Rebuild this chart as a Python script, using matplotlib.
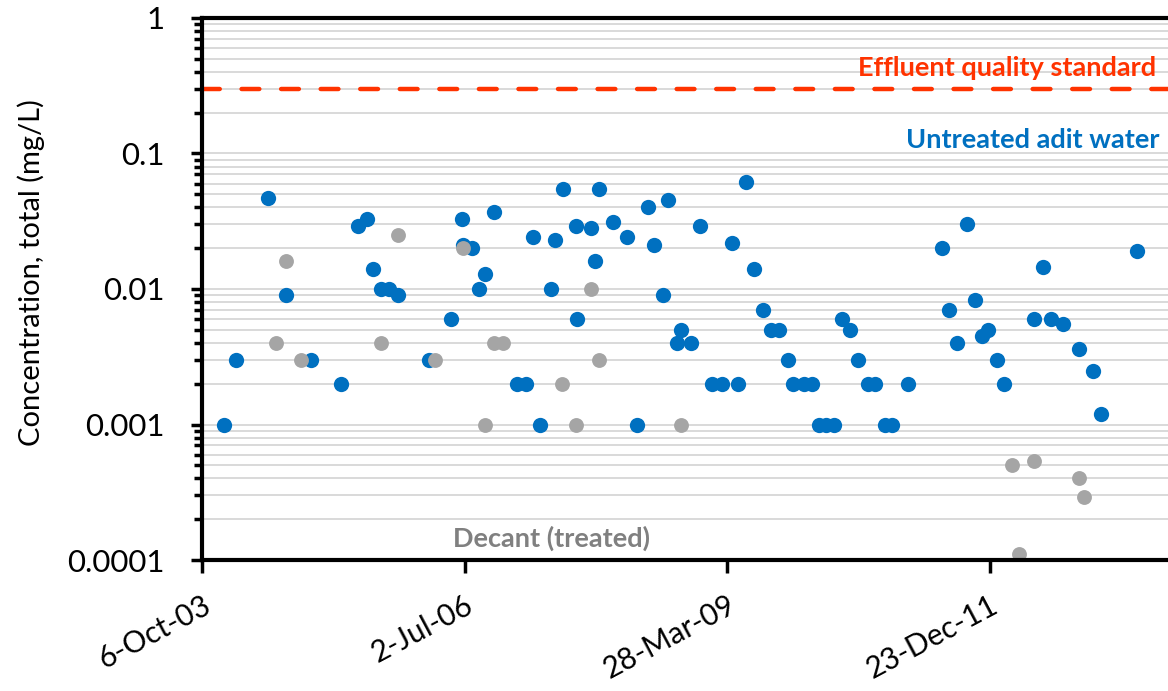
import matplotlib
matplotlib.use("Agg")
import matplotlib.pyplot as plt
import matplotlib.dates as mdates
from matplotlib.ticker import FixedLocator, LogLocator, NullFormatter
import pandas as pd

# ---- data -------------------------------------------------------------
untreated_dates = [
    "2003-12-30", "2004-02-14", "2004-06-12", "2004-08-20", "2004-11-24",
    "2005-03-17", "2005-05-22", "2005-06-25", "2005-07-17", "2005-08-16",
    "2005-09-19", "2005-10-21", "2006-02-15", "2006-05-13", "2006-06-23",
    "2006-06-25", "2006-07-29", "2006-08-27", "2006-09-17", "2006-10-22",
    "2007-01-18", "2007-02-21", "2007-03-20", "2007-04-16", "2007-05-27",
    "2007-06-13", "2007-07-10", "2007-08-29", "2007-09-05", "2007-10-27",
    "2007-11-10", "2007-11-25", "2008-01-20", "2008-03-11", "2008-04-19",
    "2008-05-29", "2008-06-21", "2008-07-25", "2008-08-13", "2008-09-17",
    "2008-10-05", "2008-11-12", "2008-12-16", "2009-01-30", "2009-03-09",
    "2009-04-16", "2009-05-07", "2009-06-07", "2009-07-08", "2009-08-13",
    "2009-09-10", "2009-10-10", "2009-11-13", "2009-12-02", "2010-01-14",
    "2010-02-16", "2010-03-12", "2010-04-10", "2010-05-08", "2010-06-08",
    "2010-07-10", "2010-08-07", "2010-09-15", "2010-10-14", "2010-11-18",
    "2010-12-14", "2011-02-13", "2011-06-26", "2011-07-22", "2011-08-22",
    "2011-09-29", "2011-10-28", "2011-11-22", "2011-12-16", "2012-01-21",
    "2012-02-14", "2012-06-08", "2012-07-14", "2012-08-12", "2012-09-29",
    "2012-11-26", "2013-01-21", "2013-02-17", "2013-07-07",
]
untreated_conc = [
    0.001, 0.003, 0.047, 0.009, 0.003,
    0.002, 0.029, 0.033, 0.014, 0.010,
    0.010, 0.009, 0.003, 0.006, 0.033,
    0.021, 0.020, 0.010, 0.013, 0.037,
    0.002, 0.002, 0.024, 0.001, 0.010,
    0.023, 0.055, 0.029, 0.006, 0.028,
    0.016, 0.055, 0.031, 0.024, 0.001,
    0.040, 0.021, 0.009, 0.045, 0.004,
    0.005, 0.004, 0.029, 0.002, 0.002,
    0.022, 0.002, 0.062, 0.014, 0.007,
    0.005, 0.005, 0.003, 0.002, 0.002,
    0.002, 0.001, 0.001, 0.001, 0.006,
    0.005, 0.003, 0.002, 0.002, 0.001,
    0.001, 0.002, 0.020, 0.007, 0.004,
    0.030, 0.0083, 0.0045, 0.005, 0.003,
    0.002, 0.006, 0.0145, 0.006, 0.0055,
    0.0036, 0.0025, 0.0012, 0.019,
]

decant_dates = [
    "2004-07-15", "2004-08-20", "2004-10-16", "2005-08-17", "2005-10-21",
    "2006-03-12", "2006-06-27", "2006-09-17", "2006-10-22", "2006-11-26",
    "2007-07-09", "2007-08-29", "2007-10-27", "2007-11-25", "2008-10-04",
    "2012-03-17", "2012-04-14", "2012-06-08", "2012-11-26", "2012-12-16",
]
decant_conc = [
    0.004, 0.016, 0.003, 0.004, 0.025,
    0.003, 0.020, 0.001, 0.004, 0.004,
    0.002, 0.001, 0.010, 0.003, 0.001,
    0.0005, 0.00011, 0.00054, 0.0004, 0.00029,
]

effluent_standard = 0.3

x_tick_dates = ["2003-10-06", "2006-07-02", "2009-03-28", "2011-12-23"]
x_tick_labels = ["6-Oct-03", "2-Jul-06", "28-Mar-09", "23-Dec-11"]
x_range = ["2003-10-06", "2013-11-01"]

y_ticks = [0.0001, 0.001, 0.01, 0.1, 1]
y_tick_labels = ["0.0001", "0.001", "0.01", "0.1", "1"]

# ---- style ------------------------------------------------------------
BLUE = "#0070C0"
GREY = "#A5A5A5"
RED = "#FF3300"
FONT = "Lato"
plt.rcParams["font.family"] = [FONT, "DejaVu Sans"]

fig = plt.figure(figsize=(11.68, 6.91), dpi=100)
ax = fig.add_axes([202 / 1168, 131 / 691, 966 / 1168, 542 / 691])

ud = mdates.date2num(pd.to_datetime(untreated_dates))
dd = mdates.date2num(pd.to_datetime(decant_dates))

ax.plot(ud, untreated_conc, linestyle="none", marker="o", ms=11,
        mfc=BLUE, mec=BLUE, mew=0, zorder=3)
ax.plot(dd, decant_conc, linestyle="none", marker="o", ms=10.7,
        mfc=GREY, mec=GREY, mew=0, zorder=4)

ax.axhline(effluent_standard, color=RED, lw=3.2, dashes=(4.0, 4.9),
           dash_capstyle="round", zorder=2.6)

ax.set_yscale("log")
ax.set_ylim(1e-4, 1)
xr = mdates.date2num(pd.to_datetime(x_range))
ax.set_xlim(xr[0], xr[1])

ax.yaxis.set_major_locator(FixedLocator(y_ticks))
ax.set_yticklabels(y_tick_labels)
ax.yaxis.set_minor_locator(LogLocator(base=10, subs=range(2, 10)))
ax.yaxis.set_minor_formatter(NullFormatter())

ax.set_xticks(mdates.date2num(pd.to_datetime(x_tick_dates)))
ax.set_xticklabels(x_tick_labels, rotation=28, ha="right",
                   rotation_mode="anchor")
ax.xaxis.set_minor_locator(FixedLocator([]))

ax.grid(True, axis="y", which="both", color="#D9D9D9", lw=1.4, zorder=0)
ax.set_axisbelow(True)

for side in ("left", "bottom", "top"):
    ax.spines[side].set_linewidth(3)
    ax.spines[side].set_color("black")
    ax.spines[side].set_zorder(5)
ax.spines["right"].set_visible(False)

ax.tick_params(axis="y", which="major", length=8, width=2.5,
               labelsize=22.5, pad=19, direction="out")
ax.tick_params(axis="y", which="minor", length=6, width=2.5, direction="out")
ax.tick_params(axis="x", which="major", length=9, width=2.5,
               labelsize=21.5, pad=13, direction="out")

ax.set_ylabel("Concentration, total (mg/L)", fontsize=21)
ax.yaxis.set_label_coords(-0.1625, 0.53)

label_kw = dict(fontsize=19.5, fontweight="bold", va="baseline",
                transform=ax.get_yaxis_transform())
ax.text(0.988, 0.373, "Effluent quality standard", color=RED,
        ha="right", **label_kw)
ax.text(0.991, 0.1098, "Untreated adit water", color=BLUE,
        ha="right", **label_kw)
ax.text(0.260, 0.0001253, "Decant (treated)", color="#808080",
        ha="left", **label_kw)

fig.savefig("out.png", dpi=100)
